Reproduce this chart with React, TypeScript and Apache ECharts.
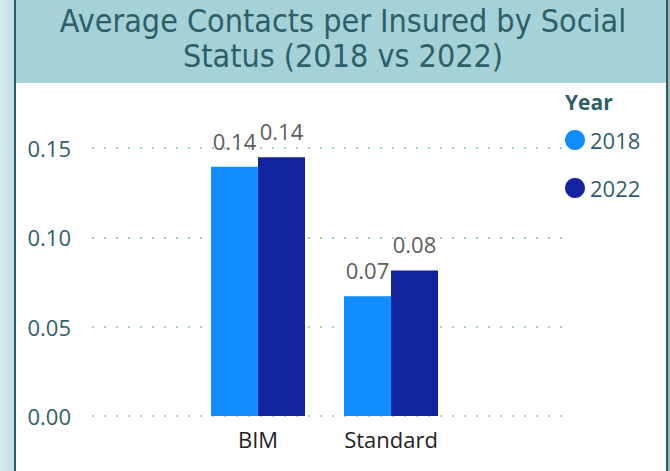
import React, { useEffect, useRef } from "react";
import * as echarts from "echarts";

const categories = ["BIM", "Standard"];
const years = ["2018", "2022"];
const values2018 = [0.1395, 0.067];
const values2022 = [0.1448, 0.0815];
const yTicks = { min: 0, max: 0.15, interval: 0.05 };

const TEAL = "#2e5f68";
const FONT = "'Segoe UI', 'Open Sans', sans-serif";

export default function App() {
  const ref = useRef<HTMLDivElement>(null);
  useEffect(() => {
    if (!ref.current) return;
    const chart = echarts.init(ref.current, undefined, { renderer: "svg" });
    const labelStyle = {
      show: true,
      position: "top",
      distance: 15,
      fontSize: 22,
      fontFamily: FONT,
      color: "#605E5C",
      formatter: (p: any) => Number(p.value).toFixed(2),
    };
    chart.setOption({
      animation: false,
      backgroundColor: "#ffffff",
      graphic: [
        {
          type: "rect",
          shape: { x: 0, y: 0, width: 14, height: 471 },
          style: {
            fill: new echarts.graphic.LinearGradient(0, 0, 1, 0, [
              { offset: 0, color: "#d5eaed" },
              { offset: 1, color: "#c2dde1" },
            ]),
          },
          z: 0,
        },
        { type: "rect", shape: { x: 14, y: 0, width: 2, height: 471 }, style: { fill: "#2a5b66" } },
        { type: "rect", shape: { x: 666, y: 0, width: 2, height: 471 }, style: { fill: "#2a5b66" } },
        { type: "rect", shape: { x: 668, y: 0, width: 2, height: 471 }, style: { fill: "#a3b1b5" } },
        { type: "rect", shape: { x: 16, y: 0, width: 650, height: 83 }, style: { fill: "#a6d1d7" } },
        {
          type: "text",
          x: 343,
          y: 38,
          style: {
            text: "Average Contacts per Insured by Social\nStatus (2018 vs 2022)",
            fontFamily: "'DejaVu Sans Condensed', 'Liberation Sans Narrow', sans-serif",
            fontSize: 32,
            lineHeight: 35,
            fill: TEAL,
            align: "center",
            verticalAlign: "middle",
          },
        },
        {
          type: "text",
          x: 565,
          y: 102,
          style: {
            text: "Year",
            fontFamily: FONT,
            fontSize: 21,
            fontWeight: "bold",
            fill: TEAL,
            verticalAlign: "middle",
          },
        },
      ],
      legend: {
        orient: "vertical",
        left: 565,
        top: 129,
        icon: "circle",
        itemWidth: 20,
        itemHeight: 20,
        itemGap: 26,
        padding: 0,
        data: years,
        textStyle: { fontSize: 22, fontFamily: FONT, color: TEAL },
      },
      grid: [
        { left: 92, right: 107, top: 148, bottom: 55 },
        { left: 191.5, right: 212.5, top: 148, bottom: 55 },
      ],
      xAxis: [
        { type: "category", gridIndex: 0, data: categories, show: false },
        {
          type: "category",
          gridIndex: 1,
          data: categories,
          axisLine: { show: false },
          axisTick: { show: false },
          axisLabel: { fontSize: 22, fontFamily: FONT, color: "#252423", margin: 12 },
        },
      ],
      yAxis: [
        {
          type: "value",
          gridIndex: 0,
          min: yTicks.min,
          max: yTicks.max,
          interval: yTicks.interval,
          axisLine: { show: false },
          axisTick: { show: false },
          axisLabel: {
            fontSize: 22,
            fontFamily: FONT,
            color: TEAL,
            margin: 21,
            formatter: (v: number) => v.toFixed(2),
          },
          splitLine: { lineStyle: { color: "#a3d0d6", width: 2, type: [2, 10] } },
        },
        {
          type: "value",
          gridIndex: 1,
          min: yTicks.min,
          max: yTicks.max,
          interval: yTicks.interval,
          show: false,
          splitLine: { show: false },
        },
      ],
      series: [
        {
          name: years[0],
          type: "bar",
          xAxisIndex: 1,
          yAxisIndex: 1,
          data: values2018,
          barWidth: 47,
          barGap: "0%",
          itemStyle: { color: "#118DFF" },
          label: labelStyle,
        },
        {
          name: years[1],
          type: "bar",
          xAxisIndex: 1,
          yAxisIndex: 1,
          data: values2022,
          barWidth: 47,
          barGap: "0%",
          itemStyle: { color: "#12239E" },
          label: labelStyle,
        },
      ],
    });
    return () => chart.dispose();
  }, []);
  return (
    <div
      ref={ref}
      style={{ position: "absolute", left: 0, top: 0, width: 670, height: 471 }}
    />
  );
}
